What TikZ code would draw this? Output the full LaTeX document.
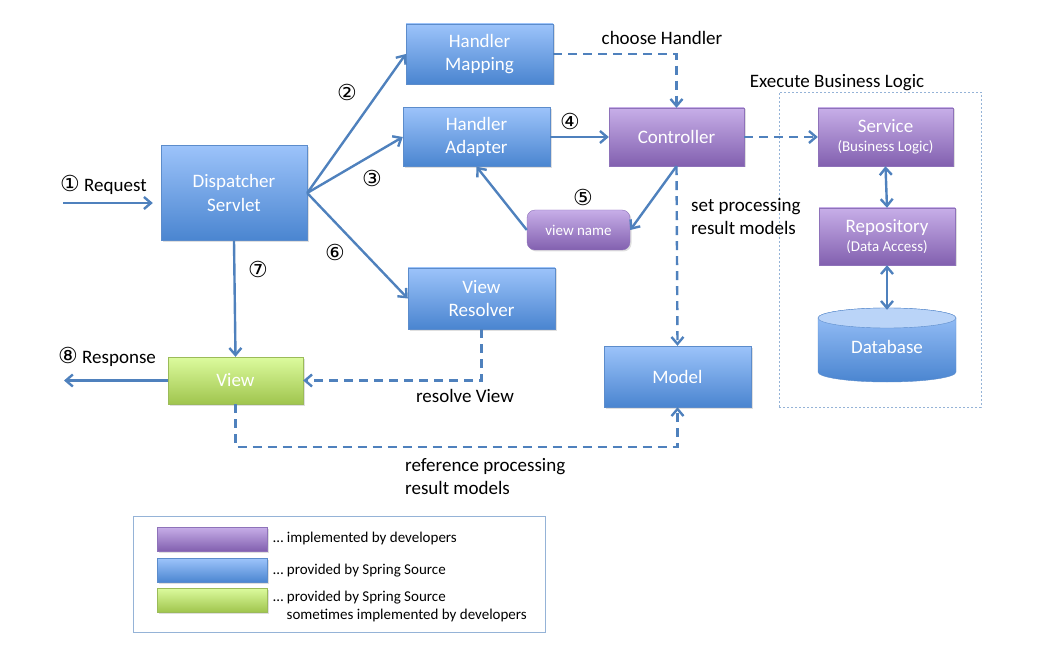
\documentclass[tikz,border=0pt]{standalone}
\usepackage{fontspec}
\setmainfont{Carlito}
\newfontfamily\circfont{DejaVu Sans}
\usetikzlibrary{arrows.meta,shadows}

\definecolor{bluetop}{HTML}{9CC3FA}
\definecolor{bluebot}{HTML}{4A85D0}
\definecolor{blueline}{HTML}{5C8CCB}
\definecolor{dbcap}{HTML}{BAD4F8}
\definecolor{purptop}{HTML}{C7AEE8}
\definecolor{purpbot}{HTML}{8260AF}
\definecolor{purpline}{HTML}{8E72B9}
\definecolor{greentop}{HTML}{DCFB9E}
\definecolor{greenbot}{HTML}{A0C54E}
\definecolor{greenline}{HTML}{9BBB59}
\definecolor{flowc}{HTML}{4F81BD}
\definecolor{frameline}{HTML}{95B3D7}

\newcommand\bigtxt{\fontsize{19}{23.5}\selectfont}
\newcommand\smalltxt{\fontsize{15}{18}\selectfont}
\newcommand\circtxt{\circfont\fontsize{22}{24}\selectfont}

\begin{document}
\begin{tikzpicture}[x=1pt,y=1pt,
    unit/.style={rectangle, align=center, text=white, font=\bigtxt, inner sep=2pt,
        drop shadow={shadow xshift=1.5pt, shadow yshift=-1.5pt, opacity=0.25}},
    springbox/.style={unit, draw=blueline, top color=bluetop, bottom color=bluebot},
    devbox/.style={unit, draw=purpline, top color=purptop, bottom color=purpbot},
    viewbox/.style={unit, draw=greenline, top color=greentop, bottom color=greenbot},
    callarrow/.style={draw=flowc, line width=2.4pt, -{Straight Barb[length=7pt,width=12pt]}},
    dataarrow/.style={callarrow, dash pattern=on 9pt off 6pt},
    duplex/.style={callarrow, {Straight Barb[length=7pt,width=12pt]}-{Straight Barb[length=7pt,width=12pt]}},
    lbl/.style={font=\bigtxt, text=black, inner sep=0pt},
    stepnum/.style={font=\circtxt, inner sep=0pt},
    legtxt/.style={font=\smalltxt, text=black, inner sep=0pt, anchor=west, align=left},
    swatch/.style={minimum width=110pt, minimum height=24pt, inner sep=0pt}
    ]
\useasboundingbox (0,0) rectangle (1049,657);

% business logic frame
\draw[frameline, line width=0.8pt, dash pattern=on 2pt off 2pt] (779,250) rectangle (981,565);
\node[lbl] (exec) at (837,574) {Execute Business Logic};

% components
\node[springbox, minimum width=146pt, minimum height=95pt] (disp) at (234,464) {Dispatcher\\Servlet};
\node[springbox, minimum width=147pt, minimum height=60pt] (hm) at (479.5,603) {Handler\\Mapping};
\node[springbox, minimum width=147pt, minimum height=59pt] (ha) at (476.5,520) {Handler\\Adapter};
\node[devbox, minimum width=135pt, minimum height=58pt] (ctrl) at (676.5,520) {Controller};
\node[devbox, rounded corners=8pt, font=\smalltxt, minimum width=103pt, minimum height=40pt] (vn) at (578.5,427) {view name};
\node[springbox, minimum width=147pt, minimum height=61pt] (vr) at (481.5,358.5) {View\\Resolver};
\node[viewbox, minimum width=135pt, minimum height=47pt] (view) at (235.5,276.5) {View};
\node[springbox, minimum width=147pt, minimum height=61pt] (model) at (677.5,280.5) {Model};
\node[devbox, minimum width=135pt, minimum height=58pt] (svc) at (885.5,520) {Service\\[-4pt]{\smalltxt (Business Logic)}};
\node[devbox, minimum width=136pt, minimum height=57pt] (repo) at (887,420.5) {Repository\\[-4pt]{\smalltxt (Data Access)}};

% database cylinder
\path[draw=blueline, top color=bluetop, bottom color=bluebot] (818,339) -- (818,285)
    arc[start angle=180, end angle=360, x radius=69, y radius=10] -- (956,339)
    arc[start angle=0, end angle=180, x radius=69, y radius=10] -- cycle;
\path[draw=blueline, fill=dbcap] (887,339) ellipse[x radius=69, y radius=10];
\node[lbl, text=white, minimum width=138pt, minimum height=74pt] (db) at (887,310) {Database};

% request / response ends
\coordinate (req) at (63,454);
\coordinate (resp) at (64,276.5);

% connectors
\draw[callarrow, shorten >=8pt] (req) -- (req -| disp.west);
\draw[callarrow] (disp.east) -- (hm.west);
\draw[callarrow] (disp.east) -- (ha.west);
\draw[callarrow] (disp.east) -- (vr.west);
\draw[callarrow] (disp.south) -- (view.north);
\draw[callarrow] (ha.east) -- (ctrl.west);
\draw[callarrow] (ctrl.south) -- (vn.east);
\draw[callarrow] (vn.west) -- (ha.south);
\draw[callarrow] (view.west) -- (resp);
\draw[dataarrow] (hm.east) -| (ctrl.north);
\draw[dataarrow] (ctrl.east) -- (svc.west);
\draw[dataarrow] (ctrl.south) -- (model.north);
\draw[dataarrow] (vr.south) |- (view.east);
\draw[dataarrow] (view.south) -- ++(0,-43) -| (model.south);
\draw[duplex] (svc.south) -- (repo.north);
\draw[duplex] (repo.south) -- (db.north);

% labels
\node[lbl, anchor=west] (reqlbl) at (60,472) {{\circtxt ①} Request};
\node[lbl, anchor=west] (resplbl) at (58,300) {{\circtxt ⑧} Response};
\node[stepnum] (s2) at (347,565) {②};
\node[stepnum] (s3) at (372,479) {③};
\node[stepnum] (s4) at (570,536) {④};
\node[stepnum] (s5) at (583,460) {⑤};
\node[stepnum] (s6) at (335,405) {⑥};
\node[stepnum] (s7) at (258,388) {⑦};
\node[lbl] (choose) at (662,619) {choose Handler};
\node[lbl, anchor=west, align=left] (setres) at (691,440.5) {set processing\\result models};
\node[lbl] (resolve) at (465,261) {resolve View};
\node[lbl, anchor=west, align=left] (refres) at (405,180.5) {reference processing\\result models};

% legend
\draw[frameline, line width=1pt] (133,25) rectangle (545,141);
\node[devbox, swatch] (lgdev) at (212,118) {};
\node[springbox, swatch] (lgspring) at (212,86.5) {};
\node[viewbox, swatch] (lgview) at (212,57) {};
\node[legtxt] (lgdevtxt) at (273,119) {… implemented by developers};
\node[legtxt] (lgspringtxt) at (273,86) {… provided by Spring Source};
\node[legtxt, anchor=north west] (lgviewtxt) at (273,66) {… provided by Spring Source\\\hspace*{0.9em}sometimes implemented by developers};
\end{tikzpicture}
\end{document}
